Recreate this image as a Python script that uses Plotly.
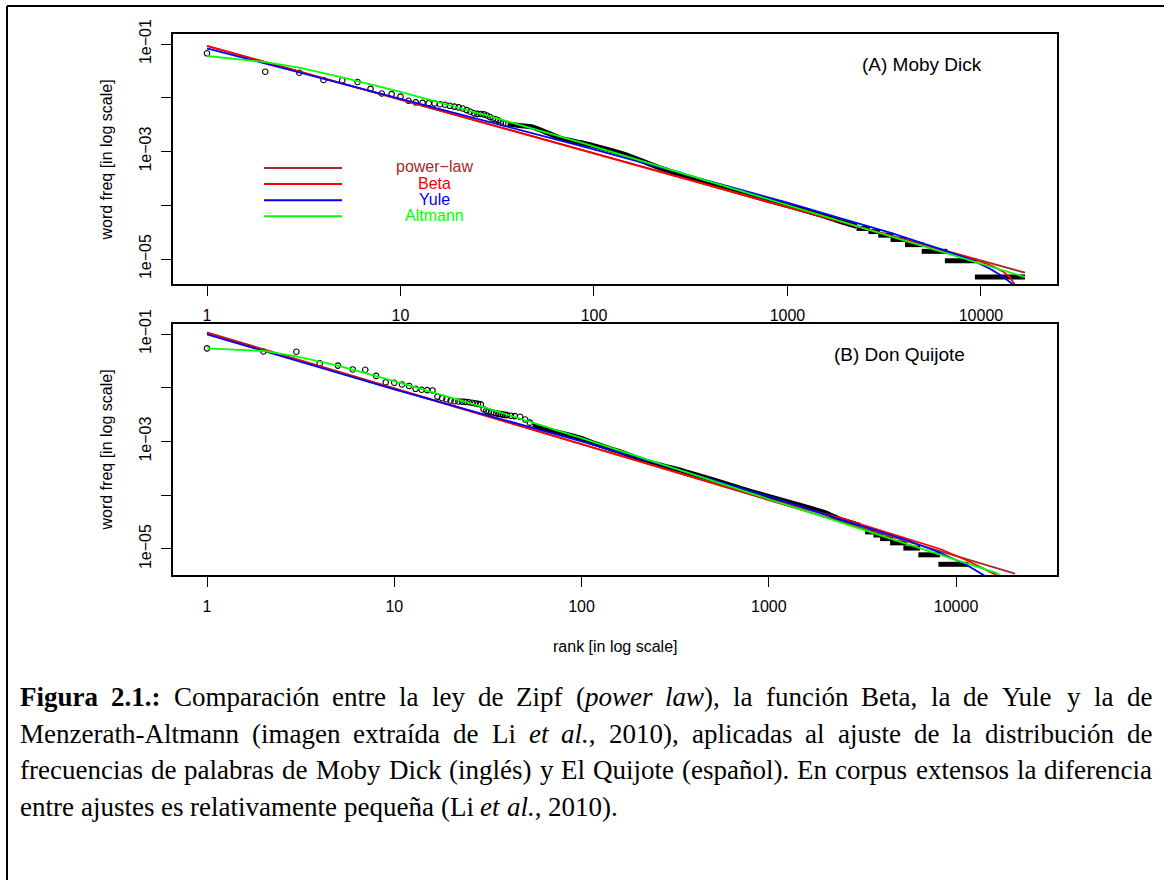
import plotly.graph_objects as go

W, H = 1164, 880
SANS = "Liberation Sans, Arial, sans-serif"
SERIF = "Liberation Serif, Times New Roman, serif"

# ---------------- data ----------------
tick_ranks = [1, 10, 100, 1000, 10000]
tick_rank_labels = ["1", "10", "100", "1000", "10000"]
tick_freqs = [1e-1, 1e-2, 1e-3, 1e-4, 1e-5]
tick_freq_labels = ["1e\u221201", "", "1e\u221203", "", "1e\u221205"]

series_names = ["power\u2212law", "Beta", "Yule", "Altmann"]
series_colors = ["#A52A2A", "#FF0000", "#0000FF", "#00FF00"]

# ---- (A) Moby Dick ----
md_rank = list(range(1, 36))
md_freq = [0.0671, 0.0305, 0.0292, 0.0214, 0.0211, 0.0196, 0.0146, 0.0120, 0.0117, 0.0105,
           0.00881, 0.00822, 0.00804, 0.00794, 0.00785, 0.00759, 0.00741, 0.00708, 0.00684, 0.00661,
           0.00631, 0.00589, 0.00550, 0.00513, 0.00501, 0.00499, 0.00490, 0.00468, 0.00437, 0.00407,
           0.00398, 0.00380, 0.00351, 0.00339, 0.00331]
md_band_rank = [36, 42, 48, 58, 67, 84, 99, 148, 219, 325, 487, 721, 1067, 1500, 1867, 2280]
md_band_freq = [0.00324, 0.00302, 0.00285, 0.00219, 0.00178, 0.00148, 0.00129, 0.000861, 0.000495,
                0.000316, 0.000204, 0.000136, 9.23e-5, 6.46e-5, 5.01e-5, 4.07e-5]
md_step_freq = [4.63e-6, 9.26e-6, 1.39e-5, 1.85e-5, 2.31e-5, 2.78e-5, 3.24e-5, 3.70e-5]
md_step_start = [9310, 6510, 4940, 4050, 3410, 2945, 2620, 2276]
md_step_end = [16880, 9500, 6700, 5040, 4130, 3520, 3010, 2670]

md_pl_rank = [1, 16900]
md_pl_freq = [0.0918, 5.56e-6]
md_beta_rank = [1, 10, 100, 1000, 5000, 9500, 11600, 13030, 14120, 14990, 15600]
md_beta_freq = [0.0923, 0.00923, 0.000933, 9.33e-5, 1.86e-5, 9.66e-6, 7.24e-6, 5.81e-6, 4.57e-6, 3.28e-6, 2.24e-6]
md_yule_rank = [1, 2, 10, 100, 1000, 1867, 3388, 6138, 9120, 11130, 13040, 14690, 15500]
md_yule_freq = [0.0832, 0.0437, 0.00955, 0.00110, 0.000112, 5.75e-5, 3.09e-5, 1.55e-5, 9.33e-6, 6.61e-6,
                4.68e-6, 3.31e-6, 2.69e-6]
md_alt_rank = [1, 2, 3, 5, 10, 30, 85, 1000, 1867, 3388, 6138, 9500, 16880]
md_alt_freq = [0.0598, 0.0462, 0.0363, 0.0240, 0.0129, 0.00437, 0.00148, 1.0e-4, 5.07e-5, 2.65e-5,
               1.38e-5, 8.59e-6, 4.62e-6]

# ---- (B) Don Quijote ----
dq_rank = list(range(1, 41)) + [42, 44, 47, 50, 53]
dq_freq = [0.0541, 0.0473, 0.0468, 0.0284, 0.0258, 0.0219, 0.0216, 0.0166, 0.0126, 0.0124,
           0.0115, 0.0108, 0.00955, 0.00916, 0.00902, 0.00891, 0.00684, 0.00638, 0.00610, 0.00578,
           0.00562, 0.00556, 0.00552, 0.00547, 0.00537, 0.00525, 0.00513, 0.00501, 0.00490, 0.00398,
           0.00372, 0.00359, 0.00351, 0.00343, 0.00335, 0.00327, 0.00324, 0.00316, 0.00313, 0.00309,
           0.00302, 0.00297, 0.00288, 0.00257, 0.00224]
dq_band_rank = [55, 70, 98, 116, 160, 223, 350, 506, 700, 995, 1352, 2040, 2404, 3070]
dq_band_freq = [0.00204, 0.00158, 0.00117, 0.000933, 0.000646, 0.000427, 0.000282, 0.000193,
                0.000135, 9.55e-5, 7.08e-5, 4.62e-5, 3.55e-5, 2.75e-5]
dq_step_freq = [5.19e-6, 7.79e-6, 1.04e-5, 1.30e-5, 1.56e-5, 1.82e-5, 2.08e-5]
dq_step_start = [8050, 6290, 5230, 4445, 3930, 3620, 3265]
dq_step_end = [11640, 8220, 6420, 5455, 4625, 4090, 3690]

dq_pl_rank = [1, 20650]
dq_pl_freq = [0.1074, 3.49e-6]
dq_beta_rank = [1, 10, 100, 1000, 2404, 5455, 8220, 11400, 14000, 16300, 17500]
dq_beta_freq = [0.103, 0.00955, 0.000871, 8.32e-5, 3.80e-5, 1.58e-5, 1.0e-5, 6.17e-6, 4.37e-6, 3.31e-6, 2.51e-6]
dq_yule_rank = [1, 10, 100, 1000, 2404, 5455, 8220, 11400, 14000, 15000]
dq_yule_freq = [0.0986, 0.00933, 0.00100, 9.55e-5, 3.56e-5, 1.47e-5, 8.51e-6, 5.04e-6, 3.28e-6, 2.69e-6]
dq_alt_rank = [1, 2, 3, 5, 10, 30, 100, 1000, 2404, 5455, 11400, 16500, 17500]
dq_alt_freq = [0.0541, 0.0484, 0.0385, 0.0257, 0.0133, 0.00437, 0.00115, 8.51e-5, 3.16e-5, 1.26e-5,
               5.37e-6, 3.55e-6, 3.02e-6]

panel_titles = ["(A) Moby Dick", "(B) Don Quijote"]
y_title = "word freq [in log scale]"
x_title = "rank [in log scale]"

caption_words = [
    ["<b>Figura</b>", "<b>2.1.:</b>", "Comparación", "entre", "la", "ley", "de", "Zipf",
     "(<i>power</i>", "<i>law</i>),", "la", "función", "Beta,", "la", "de", "Yule", "y", "la", "de"],
    ["Menzerath-Altmann", "(imagen", "extraída", "de", "Li", "<i>et</i>", "<i>al.</i>,", "2010),",
     "aplicadas", "al", "ajuste", "de", "la", "distribución", "de"],
    ["frecuencias", "de", "palabras", "de", "Moby", "Dick", "(inglés)", "y", "El", "Quijote",
     "(español).", "En", "corpus", "extensos", "la", "diferencia"],
    ["entre", "ajustes", "es", "relativamente", "pequeña", "(Li", "<i>et</i>", "<i>al.</i>,", "2010)."],
]

# ---------------- helpers ----------------
def px(x):
    return x / W


def py(y):
    return 1 - y / H


# Times-compatible advance widths (per 1000 em) for caption justification
REG = dict(zip(" (),-.:0123456789", [250, 333, 333, 250, 333, 250, 278] + [500] * 10))
REG.update({"A": 722, "B": 667, "C": 667, "D": 722, "E": 611, "F": 556, "L": 611, "M": 889,
            "Q": 722, "Y": 722, "Z": 611, "a": 444, "b": 500, "c": 444, "d": 500, "e": 444,
            "f": 333, "g": 500, "h": 500, "i": 278, "j": 278, "k": 500, "l": 278, "m": 778,
            "n": 500, "o": 500, "p": 500, "q": 500, "r": 333, "s": 389, "t": 278, "u": 500,
            "v": 500, "w": 722, "x": 500, "y": 500, "z": 444, "á": 444, "é": 444, "í": 278,
            "ó": 500, "ú": 500, "ñ": 500})
BOLD = {"F": 611, "i": 278, "g": 500, "u": 556, "r": 444, "a": 500, "2": 500, ".": 250,
        "1": 500, ":": 333, " ": 250}
ITAL = {"p": 500, "o": 500, "w": 667, "e": 444, "r": 389, "l": 278, "a": 500, "t": 278,
        ".": 250, " ": 250}


def text_width(s, size):
    i, w, style = 0, 0.0, "r"
    while i < len(s):
        if s.startswith("<b>", i):
            style, i = "b", i + 3
            continue
        if s.startswith("<i>", i):
            style, i = "i", i + 3
            continue
        if s.startswith("</b>", i) or s.startswith("</i>", i):
            style, i = "r", i + 4
            continue
        table = BOLD if style == "b" else ITAL if style == "i" else REG
        w += table.get(s[i], REG.get(s[i], 500))
        i += 1
    return w * size / 1000.0


fig = go.Figure()

panels = [
    dict(x="x", y="y", r=md_rank, f=md_freq, br=md_band_rank, bf=md_band_freq,
         sf=md_step_freq, ss=md_step_start, se=md_step_end,
         fits=[(md_pl_rank, md_pl_freq), (md_beta_rank, md_beta_freq),
               (md_yule_rank, md_yule_freq), (md_alt_rank, md_alt_freq)]),
    dict(x="x2", y="y2", r=dq_rank, f=dq_freq, br=dq_band_rank, bf=dq_band_freq,
         sf=dq_step_freq, ss=dq_step_start, se=dq_step_end,
         fits=[(dq_pl_rank, dq_pl_freq), (dq_beta_rank, dq_beta_freq),
               (dq_yule_rank, dq_yule_freq), (dq_alt_rank, dq_alt_freq)]),
]

for p in panels:
    # dense part of the rank/frequency data (overlapping circles form a thick band)
    fig.add_trace(go.Scatter(x=p["br"], y=p["bf"], mode="lines", xaxis=p["x"], yaxis=p["y"],
                             line=dict(color="black", width=5, shape="spline", smoothing=0.6),
                             showlegend=False, hoverinfo="skip"))
    for fr, a, b in zip(p["sf"], p["ss"], p["se"]):
        fig.add_trace(go.Scatter(x=[a, b], y=[fr, fr], mode="lines", xaxis=p["x"], yaxis=p["y"],
                                 line=dict(color="black", width=5), showlegend=False, hoverinfo="skip"))
    fig.add_trace(go.Scatter(x=p["r"], y=p["f"], mode="markers", xaxis=p["x"], yaxis=p["y"],
                             marker=dict(symbol="circle-open", size=5.5, color="black",
                                         line=dict(width=1.1, color="black")),
                             showlegend=False))
    for (fr_r, fr_f), name, col in zip(p["fits"], series_names, series_colors):
        fig.add_trace(go.Scatter(x=fr_r, y=fr_f, mode="lines", name=name, xaxis=p["x"], yaxis=p["y"],
                                 line=dict(color=col, width=1.8), showlegend=False))

axis_common = dict(type="log", showline=True, mirror=True, linecolor="black", linewidth=1.5,
                   ticks="outside", ticklen=10, tickwidth=1.3, tickcolor="black", showgrid=False,
                   zeroline=False, automargin=False,
                   tickfont=dict(family=SANS, size=16, color="black"))
xdom = [173 / W, 1057 / W]
fig.update_layout(
    width=W, height=H, autosize=False, margin=dict(l=0, r=0, t=0, b=0),
    paper_bgcolor="white", plot_bgcolor="white", showlegend=False,
    xaxis=dict(axis_common, domain=xdom, anchor="y", range=[-0.1757, 4.393],
               tickvals=tick_ranks, ticktext=tick_rank_labels, ticklabelstandoff=6),
    yaxis=dict(axis_common, domain=[1 - 284 / H, 1 - 34 / H], anchor="x", range=[-5.465, -0.814],
               tickvals=tick_freqs, ticktext=tick_freq_labels, tickangle=-90, ticklabelstandoff=4),
    xaxis2=dict(axis_common, domain=xdom, anchor="y2", range=[-0.1816, 4.539],
                tickvals=tick_ranks, ticktext=tick_rank_labels, ticklabelstandoff=6),
    yaxis2=dict(axis_common, domain=[1 - 575 / H, 1 - 324 / H], anchor="x2", range=[-5.484, -0.814],
                tickvals=tick_freqs, ticktext=tick_freq_labels, tickangle=-90, ticklabelstandoff=4),
)

ann = []
shapes = []
# outer frame
shapes.append(dict(type="line", xref="paper", yref="paper", x0=px(7), x1=px(1180), y0=py(6), y1=py(6),
                   line=dict(color="black", width=2)))
shapes.append(dict(type="line", xref="paper", yref="paper", x0=px(7), x1=px(7), y0=py(6), y1=py(900),
                   line=dict(color="black", width=2)))

# panel titles
ann.append(dict(text=panel_titles[0], x=px(922), y=py(64), xref="paper", yref="paper", showarrow=False,
                xanchor="center", yanchor="middle", font=dict(family=SANS, size=19, color="black")))
ann.append(dict(text=panel_titles[1], x=px(899), y=py(354), xref="paper", yref="paper", showarrow=False,
                xanchor="center", yanchor="middle", font=dict(family=SANS, size=19, color="black")))
# axis titles
for yc in (160, 450):
    ann.append(dict(text=y_title, x=px(105.5), y=py(yc), xref="paper", yref="paper", showarrow=False,
                    textangle=-90, xanchor="center", yanchor="middle",
                    font=dict(family=SANS, size=16, color="black")))
ann.append(dict(text=x_title, x=px(615), y=py(646), xref="paper", yref="paper", showarrow=False,
                xanchor="center", yanchor="middle", font=dict(family=SANS, size=16, color="black")))

# legend (top panel)
leg_y = [168, 184, 200.3, 216.3]
for name, col, yy in zip(series_names, series_colors, leg_y):
    shapes.append(dict(type="line", xref="paper", yref="paper", x0=px(264), x1=px(342),
                       y0=py(yy), y1=py(yy), line=dict(color=col, width=2)))
    ann.append(dict(text=name, x=px(434), y=py(yy - 1), xref="paper", yref="paper", showarrow=False,
                    xanchor="center", yanchor="middle", font=dict(family=SANS, size=16, color=col)))

# caption, justified lines
CAP_SIZE = 27
cap_left, cap_right = 18, 1150
cap_y = [697, 733.5, 770, 806.5]
for li, words in enumerate(caption_words):
    widths = [text_width(wd, CAP_SIZE) for wd in words]
    if li < len(caption_words) - 1:
        gap = (cap_right - cap_left - sum(widths)) / (len(words) - 1)
    else:
        gap = 0.25 * CAP_SIZE
    xcur = cap_left
    for wd, wdt in zip(words, widths):
        ann.append(dict(text=wd, x=px(xcur), y=py(cap_y[li]), xref="paper", yref="paper",
                        showarrow=False, xanchor="left", yanchor="middle",
                        font=dict(family=SERIF, size=CAP_SIZE, color="black")))
        xcur += wdt + gap

fig.update_layout(annotations=ann, shapes=shapes)
fig.write_html("out.html")
